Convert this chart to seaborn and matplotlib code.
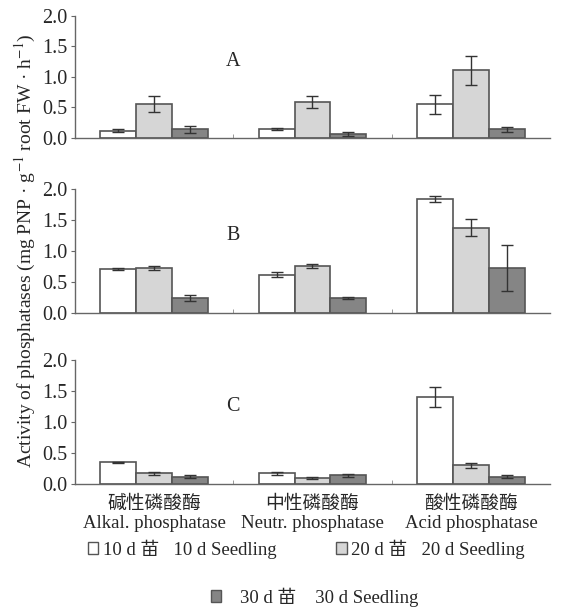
import numpy as np
import pandas as pd
import matplotlib
matplotlib.use('Agg')
import matplotlib.pyplot as plt
import seaborn as sns
from matplotlib.patches import Patch

# data
enzymes = ['碱性磷酸酶\nAlkal. phosphatase', '中性磷酸酶\nNeutr. phosphatase', '酸性磷酸酶\nAcid phosphatase']
ages = ['10 d 苗   10 d Seedling', '20 d 苗   20 d Seedling', '30 d 苗    30 d Seedling']
panels = ['A', 'B', 'C']

means_A = [[0.12, 0.15, 0.55], [0.55, 0.59, 1.11], [0.14, 0.07, 0.14]]
errs_A = [[0.02, 0.02, 0.15], [0.13, 0.10, 0.24], [0.06, 0.03, 0.04]]
means_B = [[0.71, 0.62, 1.84], [0.73, 0.76, 1.38], [0.24, 0.24, 0.73]]
errs_B = [[0.02, 0.04, 0.05], [0.03, 0.04, 0.14], [0.05, 0.02, 0.37]]
means_C = [[0.35, 0.17, 1.40], [0.17, 0.10, 0.30], [0.12, 0.14, 0.12]]
errs_C = [[0.01, 0.03, 0.16], [0.02, 0.02, 0.04], [0.02, 0.02, 0.02]]

colors = ['#ffffff', '#d6d6d6', '#858585']
edge = '#555555'

sns.set_style('ticks')
plt.rcParams['font.family'] = ['Liberation Serif', 'Noto Sans CJK SC']
plt.rcParams['font.size'] = 13
plt.rcParams['mathtext.fontset'] = 'stix'

fig = plt.figure(figsize=(5.62, 6.08), dpi=100)
boxes = [[0.133, 0.773, 0.846, 0.201],
         [0.133, 0.485, 0.846, 0.204],
         [0.133, 0.204, 0.846, 0.204]]

for i, (name, means, errs) in enumerate(zip(panels, [means_A, means_B, means_C], [errs_A, errs_B, errs_C])):
    ax = fig.add_axes(boxes[i])
    rows = []
    for a, age in enumerate(ages):
        for e, enz in enumerate(enzymes):
            rows.append({'enzyme': enz, 'age': age, 'value': means[a][e], 'err': errs[a][e]})
    df = pd.DataFrame(rows)
    sns.barplot(data=df, x='enzyme', y='value', hue='age', order=enzymes, hue_order=ages,
                palette=colors, edgecolor=edge, linewidth=1.2, width=0.68,
                errorbar=None, legend=False, ax=ax)
    # error bars from bar centres
    bar_groups = list(ax.containers)
    for a, cont in enumerate(bar_groups):
        for e, bar in enumerate(cont.patches):
            x = bar.get_x() + bar.get_width() / 2
            ax.errorbar(x, bar.get_height(), yerr=errs[a][e], color='#333333',
                        capsize=4, elinewidth=1, capthick=1, fmt='none')
    ax.set_ylim(0, 2.0)
    ax.set_xlim(-0.5, 2.5)
    ax.set_yticks([0, 0.5, 1.0, 1.5, 2.0])
    ax.set_yticklabels(['0.0', '0.5', '1.0', '1.5', '2.0'], fontsize=14.5)
    ax.set_xticks([0.5, 1.5], minor=True)
    ax.tick_params(axis='x', which='major', length=0, pad=8)
    ax.tick_params(axis='x', which='minor', length=3, direction='in', color='#888888')
    ax.tick_params(axis='y', length=3, color='#666666', pad=2)
    ax.set_xlabel('')
    ax.set_ylabel('')
    for s in ['top', 'right']:
        ax.spines[s].set_visible(False)
    for s in ['left', 'bottom']:
        ax.spines[s].set_color('#666666')
        ax.spines[s].set_linewidth(1)
    ax.text(0.5, 1.25, name, ha='center', va='center', fontsize=14.5)
    if i < 2:
        ax.set_xticklabels([])
    else:
        ax.set_xticklabels(enzymes, fontsize=13.5, linespacing=1.2)

fig.text(0.045, 0.587, 'Activity of phosphatases (mg PNP · g$^{-1}$ root FW · h$^{-1}$)',
         rotation=90, ha='center', va='center', fontsize=14)

handles = [Patch(facecolor=c, edgecolor=edge, linewidth=1) for c in colors]
fig.legend(handles[:2], ages[:2], loc='center', bbox_to_anchor=(0.545, 0.097), ncol=2,
           frameon=False, fontsize=13.5, handlelength=0.55, handleheight=0.55,
           handletextpad=0.25, columnspacing=3.2)
fig.legend(handles[2:], ages[2:], loc='center', bbox_to_anchor=(0.56, 0.018), ncol=1,
           frameon=False, fontsize=13.5, handlelength=0.55, handleheight=0.55,
           handletextpad=1.0)

fig.savefig('out.png', dpi=100)
